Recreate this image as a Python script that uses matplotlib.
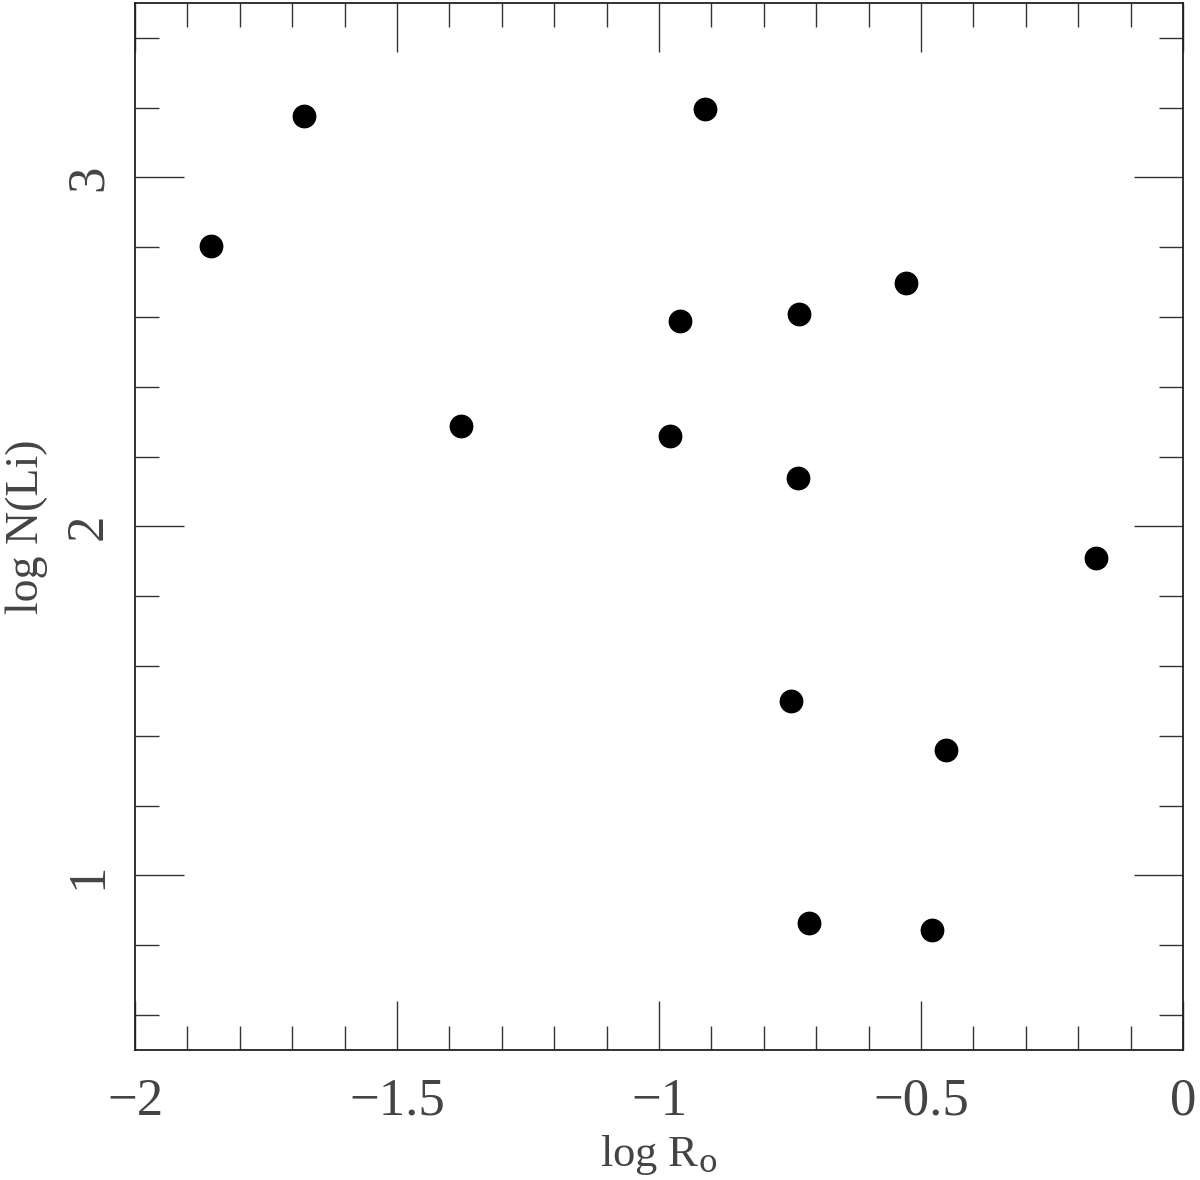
import matplotlib
matplotlib.use("Agg")
import matplotlib.pyplot as plt
from matplotlib.ticker import MultipleLocator

# data
log_ro = [-1.855, -1.677, -1.378, -0.912, -0.960, -0.979, -0.733,
          -0.529, -0.735, -0.166, -0.748, -0.452, -0.714, -0.479]
log_nli = [2.805, 3.177, 2.288, 3.197, 2.588, 2.259, 2.608,
           2.697, 2.139, 1.910, 1.501, 1.360, 0.863, 0.843]

x_ticks = [-2, -1.5, -1, -0.5, 0]
y_ticks = [1, 2, 3]

plt.rcParams['font.family'] = ['Liberation Serif', 'DejaVu Serif']
plt.rcParams['mathtext.fontset'] = 'dejavuserif'
txt = '#444444'

fig = plt.figure(figsize=(12, 11.8), dpi=100)
ax = fig.add_axes([0.1125, 0.1102, 0.8733, 0.8873])

ax.scatter(log_ro, log_nli, s=260, color='black', zorder=3)

ax.set_xlim(-2, 0)
ax.set_ylim(0.5, 3.5)

ax.set_xticks(x_ticks)
ax.set_xticklabels(['\u22122', '\u22121.5', '\u22121', '\u22120.5', '0'])
ax.set_yticks(y_ticks)
ax.set_yticklabels(['1', '2', '3'], rotation=90, va='center')
ax.xaxis.set_minor_locator(MultipleLocator(0.1))
ax.yaxis.set_minor_locator(MultipleLocator(0.2))

ax.tick_params(which='both', direction='in', top=True, right=True,
               color='#333333', width=1)
ax.tick_params(which='major', length=35, labelsize=38, labelcolor=txt)
ax.tick_params(axis='x', which='major', pad=20)
ax.tick_params(axis='y', which='major', pad=16)
ax.tick_params(which='minor', length=17)
for s in ax.spines.values():
    s.set_linewidth(1.3)
    s.set_color('#222222')

ax.set_xlabel('log R$_\\mathrm{o}$', fontsize=32, color=txt, va='center')
ax.xaxis.set_label_coords(0.5, -0.1)
ax.set_ylabel('log N(Li)', fontsize=33, color=txt, labelpad=12)

fig.savefig('out.png', dpi=100)
